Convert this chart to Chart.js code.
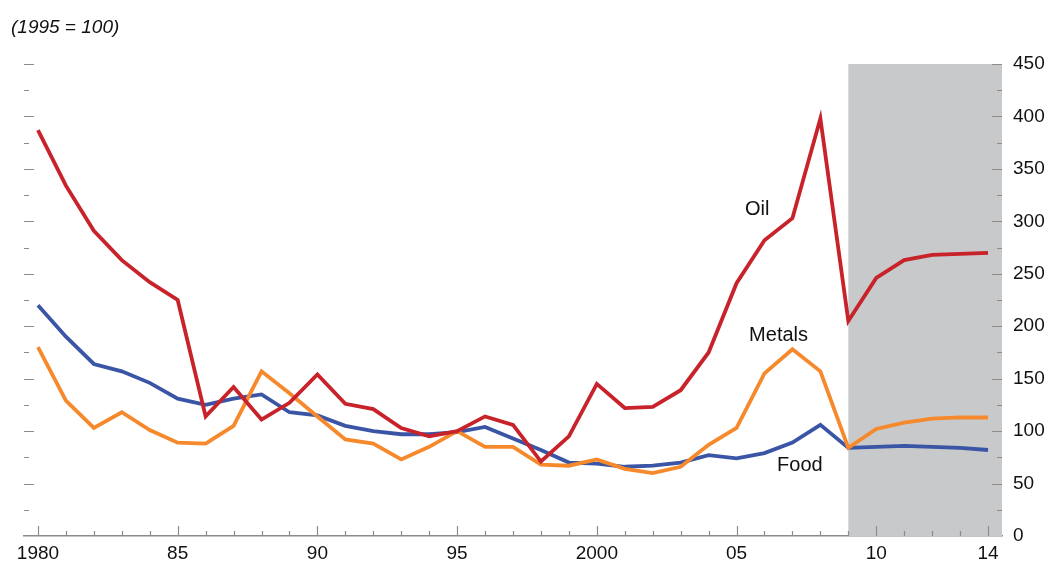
<!DOCTYPE html>
<html>
<head>
<meta charset="utf-8">
<script src="https://cdn.jsdelivr.net/npm/chart.js@4/dist/chart.umd.min.js"></script>
<style>
  html, body { margin: 0; padding: 0; background: #fff; }
  #wrap { position: relative; width: 1048px; height: 565px; }
  #unit {
    position: absolute; left: 11px; top: 16px;
    font: italic 19px "Liberation Sans", Arial, sans-serif; color: #111;
  }
</style>
</head>
<body>
<div id="wrap">
  <div id="unit">(1995 = 100)</div>
  <canvas id="chart" width="1048" height="565"></canvas>
</div>
<script>
// commodity price indices, 1995 = 100
const years = [];
for (let y = 1980; y <= 2014; y++) years.push(y);

const oil = [387, 334, 291, 263, 242, 225, 114, 142, 111, 127, 154,
  126, 121, 103, 95, 100, 114, 106, 71, 95, 145,
  122, 123, 139, 175, 241, 282, 303, 398, 205, 246,
  263, 268, 269, 270];

const metals = [180, 129, 103, 118, 101, 89, 88, 105, 157, 136, 114,
  92, 88, 73, 85, 100, 85, 85, 68, 67, 73,
  64, 60, 66, 87, 103, 155, 178, 157, 84, 102,
  108, 112, 113, 113];

const food = [220, 190, 164, 157, 146, 131, 125, 131, 135, 118, 115,
  105, 100, 97, 97, 99, 104, 93, 82, 70, 69,
  66, 67, 70, 77, 74, 79, 89, 106, 84, 85,
  86, 85, 84, 82];

const tickYears = [1980, 1985, 1990, 1995, 2000, 2005, 2010, 2014];
const forecastStart = 2009;

// label anchor: [year, value] at the left/middle of the text
const series = [
  {label: 'Oil', data: oil, color: '#c8222a', at: [2005.3, 311]},
  {label: 'Metals', data: metals, color: '#f7892d', at: [2005.45, 191]},
  {label: 'Food', data: food, color: '#3a55a6', at: [2006.45, 67]}
];

const FONT = '"Liberation Sans", Arial, sans-serif';

// shaded projection band + inward tick marks + series names
const decor = {
  id: 'decor',
  beforeDatasetsDraw(chart) {
    const {ctx, chartArea: a, scales: {x, y}} = chart;
    ctx.save();
    ctx.fillStyle = '#c8c9cb';
    const x0 = x.getPixelForValue(forecastStart);
    ctx.fillRect(x0, y.getPixelForValue(450), a.right - x0, y.getPixelForValue(0) - y.getPixelForValue(450));

    ctx.strokeStyle = '#8c8c8c';
    ctx.lineWidth = 1.2;
    ctx.beginPath();
    for (let v = 25; v <= 450; v += 25) {
      const py = Math.round(y.getPixelForValue(v)) + 0.5;
      const len = v % 50 === 0 ? 10 : 5;
      ctx.moveTo(a.left, py); ctx.lineTo(a.left + len, py);
      ctx.moveTo(a.right, py); ctx.lineTo(a.right - len, py);
    }
    const by = y.getPixelForValue(0);
    years.forEach(yr => {
      const px = Math.round(x.getPixelForValue(yr)) + 0.5;
      const len = (yr % 5 === 0 || yr === 2014) ? 10 : 5;
      ctx.moveTo(px, by); ctx.lineTo(px, by - len);
    });
    ctx.stroke();
    ctx.restore();
  },
  afterDatasetsDraw(chart) {
    const {ctx, scales: {x, y}} = chart;
    ctx.save();
    ctx.fillStyle = '#111';
    ctx.font = '20px ' + FONT;
    ctx.textAlign = 'left';
    ctx.textBaseline = 'middle';
    series.forEach(s => {
      ctx.fillText(s.label, x.getPixelForValue(s.at[0]), y.getPixelForValue(s.at[1]));
    });
    ctx.restore();
  }
};

new Chart(document.getElementById('chart'), {
  type: 'line',
  data: {
    datasets: series.map(s => ({
      label: s.label,
      data: years.map((yr, i) => ({x: yr, y: s.data[i]})),
      borderColor: s.color,
      borderWidth: 3.8,
      pointRadius: 0,
      tension: 0,
      yAxisID: 'y'
    }))
  },
  options: {
    responsive: false,
    animation: false,
    layout: {padding: {left: 24, right: 0, top: 64, bottom: 2}},
    plugins: {legend: {display: false}, tooltip: {enabled: false}},
    scales: {
      x: {
        type: 'linear',
        min: 1979.5,
        max: 2014.5,
        afterBuildTicks: sc => { sc.ticks = tickYears.map(v => ({value: v})); },
        afterFit: sc => { sc.height = 27; },
        grid: {display: false, drawTicks: false},
        border: {display: true, color: '#8c8c8c', width: 1.5},
        ticks: {
          autoSkip: false,
          maxRotation: 0,
          padding: 8,
          color: '#111',
          font: {family: FONT, size: 19, lineHeight: 1},
          callback: v => (v === 1980 || v === 2000) ? String(v) : String(v % 100).padStart(2, '0')
        }
      },
      y: {
        position: 'right',
        min: 0,
        max: 450,
        afterFit: sc => { sc.width = 46; },
        grid: {display: false, drawTicks: false},
        border: {display: false},
        ticks: {
          stepSize: 50,
          padding: 11,
          color: '#111',
          font: {family: FONT, size: 19}
        }
      }
    }
  },
  plugins: [decor]
});
</script>
</body>
</html>
